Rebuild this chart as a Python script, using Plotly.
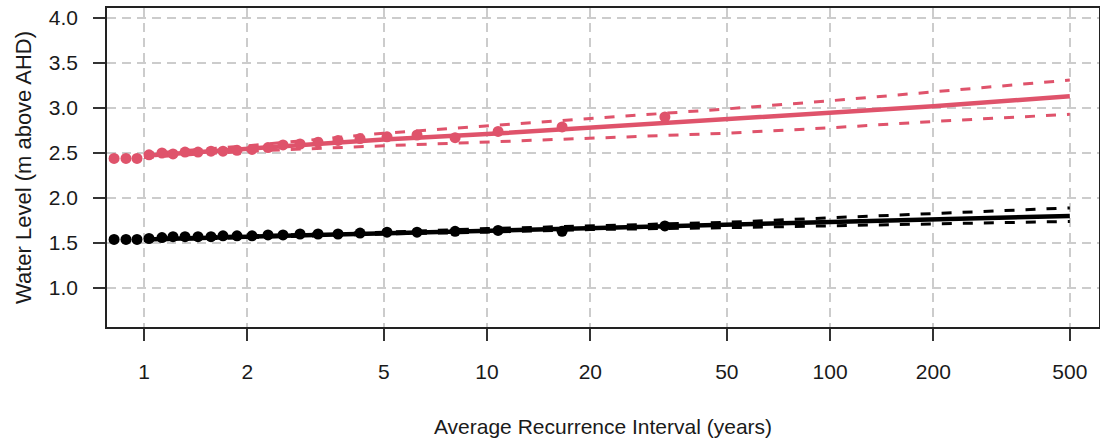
import plotly.graph_objects as go

# Return periods (years) for the fitted curves
ari_fit = [1, 2, 5, 10, 20, 50, 100, 200, 500]

# Red series (upper site)
red_fit = [2.47, 2.55, 2.65, 2.71, 2.78, 2.87, 2.95, 3.02, 3.13]
red_upper = [2.49, 2.58, 2.72, 2.80, 2.88, 2.99, 3.08, 3.18, 3.31]
red_lower = [2.45, 2.52, 2.58, 2.62, 2.66, 2.72, 2.78, 2.85, 2.93]

# Black series (lower site)
blk_fit = [1.54, 1.57, 1.61, 1.64, 1.67, 1.70, 1.73, 1.76, 1.80]
blk_upper = [1.55, 1.58, 1.62, 1.66, 1.69, 1.73, 1.78, 1.83, 1.89]
blk_lower = [1.53, 1.56, 1.60, 1.62, 1.65, 1.67, 1.69, 1.71, 1.74]

# Empirical points (plotting positions, years)
ari_obs = [0.818, 0.886, 0.954, 1.034, 1.128, 1.215, 1.317, 1.437, 1.568, 1.699,
           1.867, 2.065, 2.299, 2.542, 2.850, 3.216, 3.678, 4.264, 5.11, 6.25,
           8.07, 10.77, 16.55, 33.0]
red_obs = [2.44, 2.44, 2.44, 2.48, 2.50, 2.49, 2.51, 2.51, 2.52, 2.52,
           2.53, 2.54, 2.56, 2.59, 2.60, 2.62, 2.64, 2.66, 2.68, 2.70,
           2.67, 2.74, 2.79, 2.90]
blk_obs = [1.54, 1.54, 1.54, 1.55, 1.56, 1.57, 1.57, 1.57, 1.57, 1.58,
           1.58, 1.58, 1.59, 1.59, 1.60, 1.60, 1.60, 1.61, 1.62, 1.62,
           1.63, 1.64, 1.63, 1.69]

x_ticks = [1, 2, 5, 10, 20, 50, 100, 200, 500]
x_tick_labels = ["1", "2", "5", "10", "20", "50", "100", "200", "500"]
y_ticks = [1.0, 1.5, 2.0, 2.5, 3.0, 3.5, 4.0]
y_tick_labels = ["1.0", "1.5", "2.0", "2.5", "3.0", "3.5", "4.0"]

RED = "#DF536B"
BLK = "#000000"
DASH = "10px,11px"

fig = go.Figure()
for fit, up, lo, col in [(red_fit, red_upper, red_lower, RED),
                         (blk_fit, blk_upper, blk_lower, BLK)]:
    fig.add_trace(go.Scatter(x=ari_fit, y=fit, mode="lines",
                             line=dict(color=col, width=4.5), showlegend=False))
    for ci in (up, lo):
        fig.add_trace(go.Scatter(x=ari_fit, y=ci, mode="lines",
                                 line=dict(color=col, width=3, dash=DASH),
                                 showlegend=False))
for obs, col in [(red_obs, RED), (blk_obs, BLK)]:
    fig.add_trace(go.Scatter(x=ari_obs, y=obs, mode="markers",
                             marker=dict(color=col, size=11, line=dict(width=0)),
                             showlegend=False))

FAM = "Liberation Sans, Arial, sans-serif"
font = dict(family=FAM, size=21, color="#1a1a1a")

fig.update_layout(
    width=1100, height=443,
    margin=dict(l=107, r=1, t=8, b=116, autoexpand=False),
    plot_bgcolor="white", paper_bgcolor="white",
    font=font,
    xaxis=dict(
        type="log", range=[-0.1079, 2.784], automargin=False,
        tickvals=x_ticks, ticktext=x_tick_labels, tickfont=font,
        ticks="outside", ticklen=12, tickwidth=1.5, tickcolor="#333",
        ticklabelstandoff=13,
        showline=True, linecolor="#222", linewidth=1.5, mirror=True,
        showgrid=True, gridcolor="#cccccc", gridwidth=1.5, griddash="9px,6px",
        zeroline=False,
        title=dict(text="Average Recurrence Interval (years)", font=font, standoff=37),
    ),
    yaxis=dict(
        range=[0.5667, 4.111], automargin=False,
        tickvals=y_ticks, ticktext=y_tick_labels,
        tickfont=dict(family=FAM, size=21, color="#1a1a1a"),
        ticks="outside", ticklen=12, tickwidth=1.5, tickcolor="#333",
        ticklabelstandoff=11,
        showline=True, linecolor="#222", linewidth=1.5, mirror=True,
        showgrid=True, gridcolor="#cccccc", gridwidth=1.5, griddash="9px,6px",
        zeroline=False,
        title=dict(text="Water Level (m above AHD)", font=dict(family=FAM, size=22, color="#1a1a1a"), standoff=11),
    ),
)

fig.write_html("out.html", config={"displayModeBar": False},
               post_script="document.body.style.margin='0';document.body.style.overflow='hidden';")
